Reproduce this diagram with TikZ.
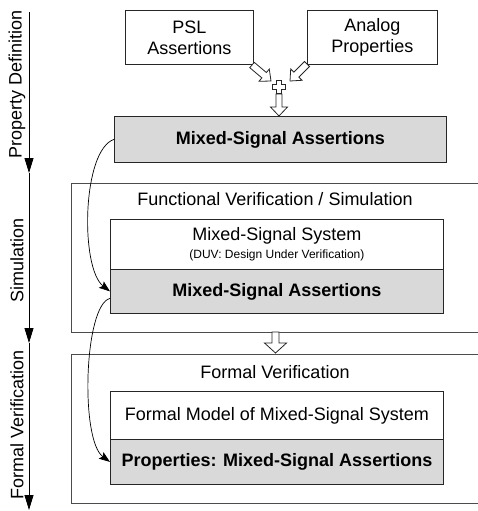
\documentclass[tikz,border=0pt]{standalone}
\usepackage{fontspec}
\setmainfont{Liberation Sans}
\usetikzlibrary{calc,arrows.meta}

% hollow block arrow: start, tip, body half-width, head half-width, head length
\newcommand\blockarr[5]{%
  \coordinate (ba-h) at ($(#2)!#5!(#1)$);
  \draw[hollow] ($(#1)!#3!90:(#2)$) -- ($(ba-h)!#3!90:(#2)$) -- ($(ba-h)!#4!90:(#2)$)
    -- (#2) -- ($(ba-h)!#4!-90:(#2)$) -- ($(ba-h)!#3!-90:(#2)$) -- ($(#1)!#3!-90:(#2)$) -- cycle;
}

\begin{document}
\begin{tikzpicture}[x=1pt,y=-1pt,
  txt/.style={font=\fontsize{18}{21}\selectfont, inner sep=0pt, align=center},
  box/.style={txt, draw=black!85, line width=0.8pt},
  shaded/.style={box, fill=black!15, font=\fontsize{18}{21}\selectfont\bfseries},
  frame/.style={draw=black!70, line width=1.2pt, inner sep=0pt},
  hollow/.style={draw=black!85, fill=white, line width=0.8pt, line join=miter},
  axis/.style={line width=0.8pt, -{Triangle[length=15pt,width=9pt]}},
  flow/.style={line width=0.7pt, -{Stealth[length=11pt,width=8pt,inset=2pt]}}]
\useasboundingbox (0,0) rectangle (477,511);

% phase axis on the left
\coordinate (ax0) at (29,12);
\coordinate (ax1) at (29,173);
\coordinate (ax2) at (29,343);
\coordinate (ax3) at (29,510);
\draw[axis] (ax0) -- (ax1);
\draw[axis] (ax1) -- (ax2);
\draw[axis] (ax2) -- (ax3);
\node[txt, rotate=90] (lbl1) at (17,84) {Property Definition};
\node[txt, rotate=90] (lbl2) at (17,260) {Simulation};
\node[txt, rotate=90] (lbl3) at (17,425) {Formal Verification};

% property definition
\node[box, minimum width=128, minimum height=54, anchor=north west] (psl) at (125,10) {PSL\\Assertions};
\node[box, minimum width=130, minimum height=54, anchor=north west] (ana) at (307,10) {Analog\\Properties};
\node[shaded, minimum width=332, minimum height=46, anchor=north west] (msa) at (114,116) {Mixed-Signal Assertions};

\coordinate (la0) at (252,65);
\coordinate (la1) at (271,81);
\coordinate (ra0) at (307,64);
\coordinate (ra1) at (290,81);
\coordinate (pa0) at (279,94);
\coordinate (pa1) at (279,116);
\coordinate (pl) at (279,87);
\blockarr{la0}{la1}{3.5pt}{8pt}{9pt}
\blockarr{ra0}{ra1}{3.5pt}{8pt}{9pt}
\blockarr{pa0}{pa1}{3pt}{8.5pt}{9pt}
\draw[hollow] (pl) ++(-2.5,-6.5) -- ++(5,0) -- ++(0,4) -- ++(4,0) -- ++(0,5) -- ++(-4,0)
  -- ++(0,4) -- ++(-5,0) -- ++(0,-4) -- ++(-4,0) -- ++(0,-5) -- ++(4,0) -- cycle;

% simulation stage (frame runs on past the right edge)
\node[frame, minimum width=430, minimum height=149, anchor=north west] (sim) at (71,183) {};
\node[txt] (simt) at (275,199) {Functional Verification / Simulation};
\node[box, minimum width=333, minimum height=50, anchor=north west] (mss) at (110,219)
  {Mixed-Signal System\\[-3pt]{\fontsize{12}{14}\selectfont (DUV: Design Under Verification)}};
\node[shaded, minimum width=333, minimum height=44, anchor=north west] (msa2) at (110,269) {Mixed-Signal Assertions};

% formal verification stage
\coordinate (da0) at (275.5,332);
\coordinate (da1) at (275.5,353);
\blockarr{da0}{da1}{3.5pt}{11pt}{10pt}
\node[frame, minimum width=430, minimum height=149, anchor=north west] (fv) at (71,354) {};
\node[txt] (fvt) at (275,372) {Formal Verification};
\node[box, minimum width=333, minimum height=48, anchor=north west] (fm) at (110,391) {Formal Model of Mixed-Signal System};
\node[shaded, minimum width=333, minimum height=45, anchor=north west] (prop) at (110,439) {Properties: Mixed-Signal Assertions};

% assertion reuse
\draw[flow] (msa.west) .. controls (82,150) and (80,268) .. (msa2.west);
\draw[flow] ([yshift=-7pt]msa2.west) .. controls (84,305) and (80,440) .. (prop.west);
\end{tikzpicture}
\end{document}
